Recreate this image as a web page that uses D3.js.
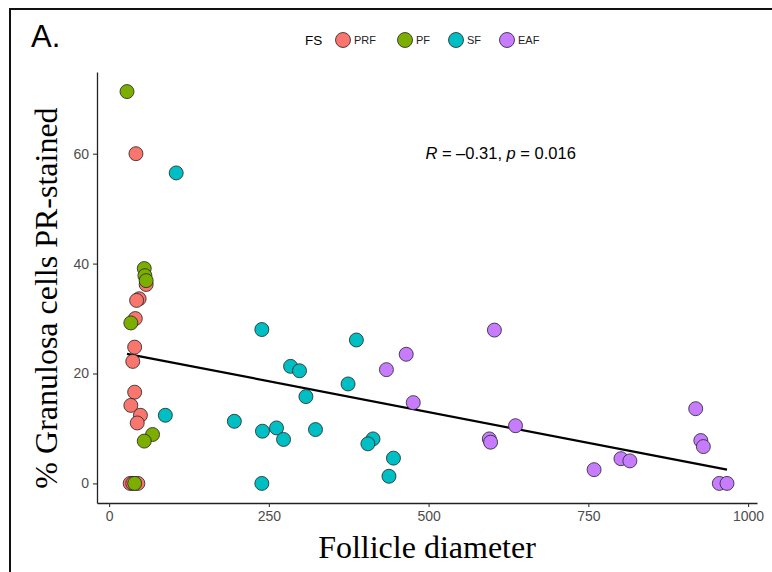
<!DOCTYPE html>
<html>
<head>
<meta charset="utf-8">
<script src="https://cdn.jsdelivr.net/npm/d3@7"></script>
<style>
  body { margin: 0; background: #fff; }
  svg { display: block; }
</style>
</head>
<body>
<div id="chart"></div>
<script>
// follicle stage groups and their colours
var stages = ["PRF", "PF", "SF", "EAF"];
var stageColors = ["#F8766D", "#7CAE00", "#00BFC4", "#C77CFF"];

// follicle diameter (x) and % PR-stained granulosa cells (y), per stage
var prfDiam = [42, 58, 47, 43, 41, 40, 37, 40, 34, 49, 44, 33, 37, 45];
var prfPct  = [60, 36.2, 33.6, 33.3, 30.0, 24.8, 22.2, 16.6, 14.2, 12.4, 11.0, 0, 0, 0];

var pfDiam = [28, 55, 56, 58, 34, 68, 55, 40];
var pfPct  = [71.3, 39.1, 37.8, 36.9, 29.2, 8.9, 7.7, 0];

var sfDiam = [105, 88, 196, 239, 387, 284, 298, 374, 308, 240, 262, 273, 323, 413, 405, 445, 438, 239];
var sfPct  = [56.5, 12.4, 11.3, 28.0, 26.1, 21.3, 20.5, 18.1, 15.8, 9.5, 10.1, 8.0, 9.8, 8.1, 7.2, 4.6, 1.3, 0];

var eafDiam = [465, 434, 603, 476, 595, 597, 636, 918, 926, 930, 801, 815, 759, 955, 967];
var eafPct  = [23.5, 20.7, 27.9, 14.7, 8.1, 7.5, 10.5, 13.6, 7.8, 6.7, 4.5, 4.1, 2.5, 0, 0];

var xTicks = [0, 250, 500, 750, 1000];
var yTicks = [0, 20, 40, 60];
var corLabel = { r: "\u20130.31", p: "0.016" };

var width = 772, height = 572;
var margin = { top: 72, right: 15, bottom: 69, left: 97 };

var svg = d3.select("#chart").append("svg")
    .attr("width", width)
    .attr("height", height);

// outer frame (top and left edges only)
svg.append("path")
    .attr("d", "M10,572 V9 H772")
    .attr("fill", "none")
    .attr("stroke", "#111")
    .attr("stroke-width", 2);

svg.append("text")
    .attr("x", 31).attr("y", 47)
    .attr("font-family", "Liberation Sans, Arial, sans-serif")
    .attr("font-size", 31)
    .attr("fill", "#000")
    .text("A.");

var groups = [
  { stage: "PRF", x: prfDiam, y: prfPct },
  { stage: "PF",  x: pfDiam,  y: pfPct },
  { stage: "SF",  x: sfDiam,  y: sfPct },
  { stage: "EAF", x: eafDiam, y: eafPct }
];

var points = [];
groups.forEach(function(g) {
  g.x.forEach(function(d, i) {
    points.push({ stage: g.stage, x: d, y: g.y[i] });
  });
});

var color = d3.scaleOrdinal().domain(stages).range(stageColors);

// ggplot style 5% expansion
var xExt = d3.extent(points, function(d) { return d.x; }),
    yExt = d3.extent(points, function(d) { return d.y; });
var xPad = (xExt[1] - xExt[0]) * 0.05,
    yPad = (yExt[1] - yExt[0]) * 0.05;

var x = d3.scaleLinear()
    .domain([xExt[0] - xPad, xExt[1] + xPad])
    .range([margin.left, width - margin.right]);

var y = d3.scaleLinear()
    .domain([yExt[0] - yPad, yExt[1] + yPad])
    .range([height - margin.bottom, margin.top]);

var xAxis = svg.append("g")
    .attr("transform", "translate(0," + (height - margin.bottom) + ")")
    .call(d3.axisBottom(x).tickValues(xTicks).tickFormat(d3.format("d"))
      .tickSize(4).tickPadding(4).tickSizeOuter(0));

var yAxis = svg.append("g")
    .attr("transform", "translate(" + margin.left + ",0)")
    .call(d3.axisLeft(y).tickValues(yTicks).tickFormat(d3.format("d"))
      .tickSize(4).tickPadding(4).tickSizeOuter(0));

[xAxis, yAxis].forEach(function(a) {
  a.select(".domain").attr("stroke", "#222").attr("stroke-width", 1.3);
  a.selectAll(".tick line").attr("stroke", "#333").attr("stroke-width", 1.1);
  a.selectAll(".tick text")
      .attr("fill", "#4D4D4D")
      .attr("font-family", "Liberation Sans, Arial, sans-serif")
      .attr("font-size", 14);
});

// least squares fit over all points
var mx = d3.mean(points, function(d) { return d.x; }),
    my = d3.mean(points, function(d) { return d.y; });
var sxy = d3.sum(points, function(d) { return (d.x - mx) * (d.y - my); }),
    sxx = d3.sum(points, function(d) { return (d.x - mx) * (d.x - mx); });
var slope = sxy / sxx,
    intercept = my - slope * mx;

svg.append("line")
    .attr("x1", x(xExt[0])).attr("y1", y(intercept + slope * xExt[0]))
    .attr("x2", x(xExt[1])).attr("y2", y(intercept + slope * xExt[1]))
    .attr("stroke", "#000")
    .attr("stroke-width", 2.2);

svg.append("g").selectAll("circle")
    .data(points)
  .enter().append("circle")
    .attr("cx", function(d) { return x(d.x); })
    .attr("cy", function(d) { return y(d.y); })
    .attr("r", 7)
    .attr("fill", function(d) { return color(d.stage); })
    .attr("stroke", "#222")
    .attr("stroke-width", 0.8);

// correlation label
var cor = svg.append("text")
    .attr("x", x(495)).attr("y", y(60.2) + 6)
    .attr("font-family", "Liberation Sans, Arial, sans-serif")
    .attr("font-size", 16.5)
    .attr("fill", "#000");
cor.append("tspan").attr("font-style", "italic").text("R");
cor.append("tspan").text(" = " + corLabel.r + ", ");
cor.append("tspan").attr("font-style", "italic").text("p");
cor.append("tspan").text(" = " + corLabel.p);

// axis titles
svg.append("text")
    .attr("x", (margin.left + width - margin.right) / 2)
    .attr("y", 558)
    .attr("text-anchor", "middle")
    .attr("font-family", "Liberation Serif, Times New Roman, serif")
    .attr("font-size", 32)
    .text("Follicle diameter");

svg.append("text")
    .attr("transform", "translate(57," + 298 + ") rotate(-90)")
    .attr("text-anchor", "middle")
    .attr("font-family", "Liberation Serif, Times New Roman, serif")
    .attr("font-size", 32)
    .text("% Granulosa cells PR-stained");

// legend
var legend = svg.append("g")
    .attr("font-family", "Liberation Sans, Arial, sans-serif");

legend.append("text")
    .attr("x", 305).attr("y", 45)
    .attr("font-size", 13.5)
    .text("FS");

var legendX = [343, 405, 456, 507];
var item = legend.selectAll("g.item")
    .data(stages)
  .enter().append("g")
    .attr("class", "item")
    .attr("transform", function(d, i) { return "translate(" + legendX[i] + ",40)"; });

item.append("circle")
    .attr("r", 7.5)
    .attr("fill", function(d) { return color(d); })
    .attr("stroke", "#222")
    .attr("stroke-width", 0.8);

item.append("text")
    .attr("x", 11).attr("y", 4)
    .attr("font-size", 11)
    .attr("fill", "#222")
    .text(function(d) { return d; });
</script>
</body>
</html>
